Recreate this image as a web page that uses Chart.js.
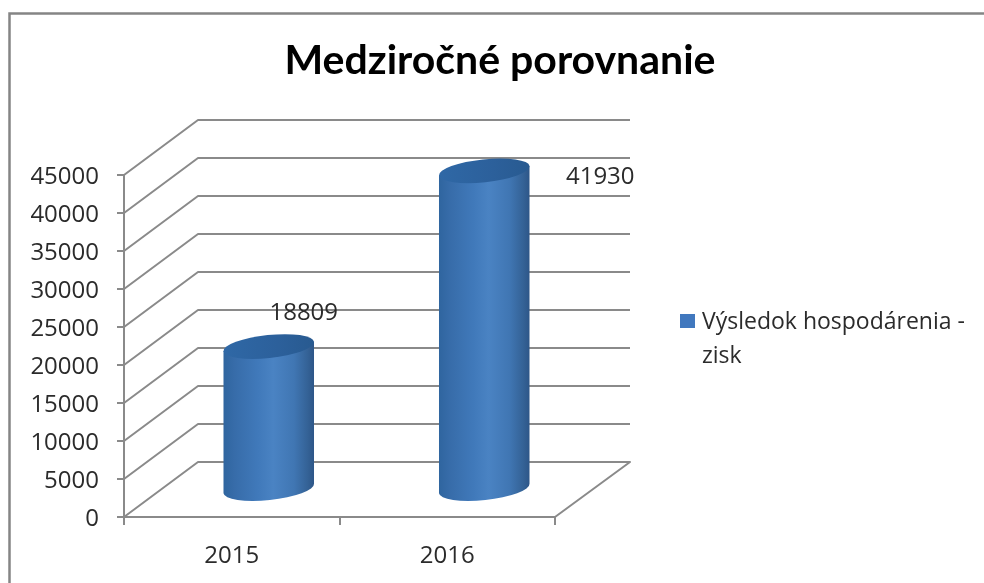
<!DOCTYPE html>
<html><head><meta charset="utf-8">
<style>html,body{margin:0;padding:0;background:#fff}#w{position:relative;width:984px;height:583px;overflow:hidden}canvas{display:block;filter:blur(0.45px)}</style>
<script src="https://cdn.jsdelivr.net/npm/chart.js@4"></script>
</head><body><div id="w"><canvas id="c" width="984" height="583"></canvas></div>
<script>
const titleText = 'Medziročné porovnanie';
const categories = ['2015', '2016'];
const seriesName = ['Výsledok hospodárenia -', 'zisk'];
const seriesValues = [18809, 41930];
const yMax = 45000, yStep = 5000;
const labelOffsets = [[72, -61], [153, -21]];
const DEPTH_X = 74, DEPTH_Y = 55;
const GRID = '#8a8a8a', INK = '#2b2b2b', FONT = '"Open Sans", sans-serif';

const threeD = {
  id: 'threeD',
  beforeDraw(chart) {
    const c = chart.ctx;
    c.save(); c.fillStyle = '#fff'; c.fillRect(0, 0, chart.width, chart.height);
    c.strokeStyle = '#858585'; c.lineWidth = 2.5; c.strokeRect(9.5, 13.5, 1000, 600); c.restore();
  },
  afterLayout(chart) {
    chart.titleBlock.left = 17; chart.titleBlock.right = 983;
  },
  beforeDatasetsDraw(chart) {
    const c = chart.ctx, y = chart.scales.y, a = chart.chartArea;
    c.save(); c.strokeStyle = GRID; c.lineWidth = 2; c.lineJoin = 'round';
    y.ticks.forEach(t => {
      const py = y.getPixelForValue(t.value);
      c.beginPath(); c.moveTo(a.left, py); c.lineTo(a.left + DEPTH_X, py - DEPTH_Y);
      c.lineTo(a.right + DEPTH_X + 1, py - DEPTH_Y);
      if (t.value === 0) c.lineTo(a.right, py);
      c.stroke();
    });
    c.restore();
  },
  afterDatasetsDraw(chart) {
    const c = chart.ctx, meta = chart.getDatasetMeta(0);
    const tilt = -6 * Math.PI / 180, ry = 11.5;
    meta.data.forEach((bar, i) => {
      const rx = bar.width / 2 / Math.cos(tilt), cx = bar.x + DEPTH_X / 2;
      const yt = bar.y - DEPTH_Y / 2, yb = bar.base - DEPTH_Y / 2;
      const ex = rx * Math.cos(tilt), ey = rx * Math.sin(tilt);
      const g = c.createLinearGradient(cx - ex, 0, cx + ex, 0);
      g.addColorStop(0, '#2f659f'); g.addColorStop(.12, '#376ca9'); g.addColorStop(.38, '#4079ba');
      g.addColorStop(.55, '#4a83c3'); g.addColorStop(.78, '#4076b3'); g.addColorStop(.93, '#346296'); g.addColorStop(1, '#2d5688');
      c.save();
      c.beginPath(); c.moveTo(cx - ex, yt - ey); c.lineTo(cx - ex, yb - ey);
      c.ellipse(cx, yb, rx, ry, tilt, Math.PI, 0, true);
      c.lineTo(cx + ex, yt + ey); c.closePath();
      c.fillStyle = g; c.fill();
      const g2 = c.createLinearGradient(cx - ex, 0, cx + ex, 0);
      g2.addColorStop(0, '#2f68a6'); g2.addColorStop(.6, '#2c609b'); g2.addColorStop(1, '#285a90');
      c.beginPath(); c.ellipse(cx, yt, rx, ry, tilt, 0, Math.PI * 2);
      c.fillStyle = g2; c.fill();
      c.fillStyle = INK; c.font = '24px ' + FONT; c.textAlign = 'center'; c.textBaseline = 'middle';
      c.fillText(String(seriesValues[i]), bar.x + labelOffsets[i][0], bar.y + labelOffsets[i][1]);
      c.restore();
    });
    c.save();
    c.fillStyle = '#4178be'; c.fillRect(680, 314, 15, 14);
    c.fillStyle = INK; c.font = '23px ' + FONT; c.textAlign = 'left'; c.textBaseline = 'middle';
    seriesName.forEach((s, i) => c.fillText(s, 702, 322 + i * 34));
    c.restore();
  }
};

new Chart(document.getElementById('c'), {
  type: 'bar',
  data: { labels: categories, datasets: [{ label: seriesName.join(' '), data: seriesValues,
    backgroundColor: 'transparent', borderWidth: 0, barPercentage: 0.42, categoryPercentage: 1 }] },
  options: {
    responsive: false, animation: false,
    layout: { padding: { left: 0, right: 429, top: 0, bottom: 0 } },
    plugins: {
      legend: { display: false }, tooltip: { enabled: false },
      title: { display: true, text: titleText, color: '#000',
        font: { family: 'Lato', size: 41, weight: 'bold', lineHeight: 1.2 },
        padding: { top: 36, bottom: 89.8 } }
    },
    scales: {
      x: { afterFit: s => { s.height = 66; }, border: { color: GRID, width: 2 },
        grid: { drawOnChartArea: false, tickLength: 8, color: GRID, lineWidth: 2 },
        ticks: { color: INK, font: { family: '"Open Sans"', size: 24 }, padding: 17 } },
      y: { min: 0, max: yMax, afterFit: s => { s.width = 124; }, border: { color: GRID, width: 2 },
        grid: { drawOnChartArea: false, tickLength: 7, color: GRID, lineWidth: 2 },
        ticks: { stepSize: yStep, color: INK, font: { family: '"Open Sans"', size: 24 }, padding: 18, labelOffset: 2,
          callback: v => String(v) } }
    }
  },
  plugins: [threeD]
});
</script></body></html>
